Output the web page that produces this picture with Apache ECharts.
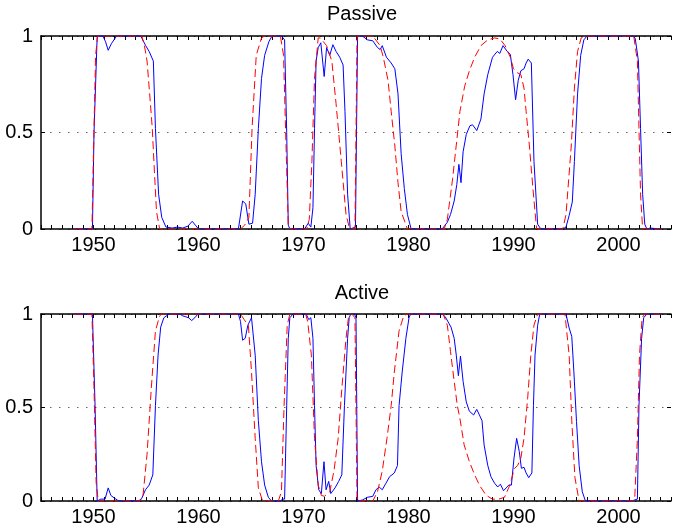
<!DOCTYPE html>
<html>
<head>
<meta charset="utf-8">
<script src="https://cdn.jsdelivr.net/npm/echarts@6/dist/echarts.min.js"></script>
<style>
  html, body { margin: 0; padding: 0; background: #fff; }
  #chart { width: 674px; height: 528px; }
</style>
</head>
<body>
<div id="chart"></div>
<script>
// [year, probability]
var passiveSolid = [
  [1948.25,0],[1949.9,0],[1950.05,0.5],[1950.35,1],[1950.9,1],[1951.15,0.97],[1951.4,0.926],[1951.7,0.96],[1952.2,1],
  [1954.5,1],[1954.97,0.95],[1955.3,0.92],[1955.7,0.87],[1955.9,0.52],[1956.2,0.18],[1956.5,0.06],[1956.9,0.01],
  [1957.5,0.005],[1958.0,0.01],[1958.5,0.005],[1959.0,0.015],[1959.4,0.04],[1959.7,0.02],[1960.0,0],[1963.8,0],
  [1964.2,0.145],[1964.5,0.13],[1964.8,0.025],[1965.15,0.03],[1965.4,0.18],[1965.7,0.52],[1966.0,0.78],[1966.3,0.9],
  [1966.7,0.97],[1967.0,1],[1967.9,1],[1968.2,0.98],[1968.4,0.5],[1968.55,0.02],[1968.7,0],[1970.1,0],[1970.45,0.03],
  [1970.7,0.01],[1970.9,0.11],[1971.05,0.52],[1971.2,0.87],[1971.4,0.94],[1971.65,0.965],[1971.97,0.79],[1972.2,0.94],
  [1972.5,0.9],[1972.8,0.955],[1973.1,0.92],[1973.45,0.89],[1973.77,0.85],[1973.95,0.61],[1974.2,0.18],[1974.45,0],
  [1974.95,0.01],[1975.15,1],[1975.6,1],[1976.1,0.98],[1976.6,0.975],[1977.05,0.94],[1977.3,0.93],[1977.5,0.95],
  [1977.9,0.89],[1978.35,0.86],[1978.7,0.83],[1979.0,0.7],[1979.3,0.39],[1979.6,0.21],[1979.9,0.075],[1980.25,0],
  [1983.2,0],[1983.7,0.035],[1984.0,0.075],[1984.35,0.145],[1984.6,0.23],[1984.8,0.335],[1985.0,0.24],[1985.2,0.4],
  [1985.5,0.49],[1985.85,0.535],[1986.1,0.54],[1986.5,0.51],[1986.9,0.57],[1987.2,0.7],[1987.55,0.8],[1988.0,0.89],
  [1988.45,0.92],[1988.7,0.91],[1989.0,0.95],[1989.4,0.92],[1989.7,0.905],[1989.95,0.8],[1990.2,0.67],[1990.45,0.77],
  [1990.7,0.82],[1991.0,0.83],[1991.2,0.86],[1991.4,0.88],[1991.7,0.86],[1991.95,0.35],[1992.3,0.025],[1992.6,0],
  [1994.7,0],[1995.0,0.01],[1995.3,0.07],[1995.6,0.14],[1995.8,0.35],[1996.1,0.7],[1996.4,0.9],[1996.7,0.98],
  [1997.0,1],[2001.45,1],[2001.6,0.985],[2001.9,0.87],[2002.1,0.52],[2002.3,0.18],[2002.5,0.025],[2002.7,0],
  [2003.0,0.005],[2004.0,0]
];
var passiveDashed = [
  [1948.25,0],[1949.85,0],[1950.0,0.4],[1950.2,0.9],[1950.4,1],[1954.6,1],[1954.85,0.95],[1955.1,0.87],[1955.35,0.7],
  [1955.6,0.52],[1955.8,0.3],[1956.0,0.09],[1956.3,0],[1964.0,0],[1964.4,0.02],[1964.8,0.06],[1965.1,0.52],[1965.5,0.9],
  [1966.0,0.99],[1966.3,1],[1967.8,1],[1968.1,0.9],[1968.3,0.5],[1968.55,0.02],[1968.7,0],[1970.3,0],[1970.55,0.05],
  [1970.8,0.35],[1971.05,0.78],[1971.4,0.99],[1971.6,0.99],[1971.9,0.97],[1972.2,0.95],[1972.7,0.87],[1973.1,0.65],
  [1973.6,0.35],[1974.05,0.075],[1974.4,0],[1974.9,0],[1975.1,1],[1976.6,1],[1977.3,0.95],[1977.6,0.89],[1978.05,0.77],
  [1978.35,0.61],[1978.7,0.43],[1979.0,0.24],[1979.3,0.09],[1979.9,0],[1983.4,0],[1983.7,0.05],[1984.2,0.26],
  [1984.6,0.46],[1984.9,0.61],[1985.35,0.74],[1985.8,0.82],[1986.3,0.89],[1986.9,0.95],[1987.55,0.98],[1988.2,0.99],
  [1988.7,0.985],[1989.2,0.95],[1989.7,0.89],[1990.0,0.83],[1990.35,0.81],[1990.7,0.8],[1991.0,0.73],[1991.2,0.61],
  [1991.5,0.44],[1991.85,0.21],[1992.2,0],[1994.7,0],[1995.0,0.075],[1995.5,0.43],[1995.8,0.73],[1996.1,0.92],
  [1996.45,0.99],[1996.8,1],[2001.45,1],[2001.8,0.87],[2001.95,0.52],[2002.1,0.18],[2002.3,0],[2004.0,0]
];
var activeSolid = [
  [1948.25,1],[1949.9,1],[1950.15,0.51],[1950.35,0],[1950.7,0.01],[1951.1,0.01],[1951.4,0.07],[1951.65,0.03],
  [1952.0,0.015],[1952.4,0],[1954.3,0],[1954.6,0.015],[1954.95,0.06],[1955.3,0.085],[1955.65,0.14],[1955.9,0.51],
  [1956.15,0.78],[1956.4,0.93],[1956.7,0.98],[1957.2,1],[1958.2,1],[1958.5,0.99],[1958.8,0.985],[1959.05,0.98],
  [1959.35,0.965],[1959.65,0.98],[1959.95,1],[1963.8,1],[1964.0,0.96],[1964.2,0.86],[1964.45,0.87],[1964.7,0.94],
  [1965.05,0.98],[1965.2,0.97],[1965.4,0.78],[1965.7,0.43],[1966.0,0.21],[1966.3,0.085],[1966.65,0.02],[1966.95,0],
  [1967.8,0],[1968.0,0.01],[1968.2,0.01],[1968.4,0.51],[1968.55,0.87],[1968.7,0.98],[1969.0,1],[1970.25,1],
  [1970.5,0.97],[1970.7,0.98],[1970.9,0.87],[1971.05,0.51],[1971.2,0.19],[1971.45,0.06],[1971.7,0.04],[1971.95,0.21],
  [1972.15,0.06],[1972.4,0.105],[1972.6,0.04],[1973.0,0.07],[1973.35,0.105],[1973.65,0.14],[1973.9,0.51],
  [1974.2,0.87],[1974.35,0.98],[1974.5,1],[1974.85,1],[1975.0,0.98],[1975.15,0],[1975.6,0.005],[1976.1,0.02],
  [1976.6,0.025],[1976.9,0.06],[1977.2,0.075],[1977.5,0.06],[1977.85,0.095],[1978.2,0.13],[1978.65,0.15],
  [1978.95,0.19],[1979.1,0.51],[1979.4,0.69],[1979.75,0.87],[1980.05,0.98],[1980.2,1],[1983.2,1],[1983.5,0.985],
  [1983.85,0.95],[1984.05,0.93],[1984.35,0.87],[1984.55,0.78],[1984.75,0.67],[1984.95,0.775],[1985.2,0.64],
  [1985.5,0.53],[1985.8,0.48],[1986.2,0.46],[1986.5,0.49],[1986.75,0.46],[1987.0,0.43],[1987.2,0.3],[1987.55,0.19],
  [1987.85,0.13],[1988.2,0.095],[1988.5,0.075],[1988.75,0.09],[1989.05,0.055],[1989.3,0.07],[1989.55,0.085],
  [1989.8,0.085],[1990.05,0.23],[1990.3,0.335],[1990.55,0.265],[1990.75,0.175],[1991.0,0.18],[1991.2,0.15],
  [1991.45,0.125],[1991.75,0.15],[1991.9,0.51],[1992.05,0.78],[1992.3,0.94],[1992.5,1],[1995.0,1],[1995.3,0.925],
  [1995.55,0.88],[1995.75,0.69],[1996.0,0.425],[1996.25,0.19],[1996.55,0.05],[1996.85,0],[2001.3,0],[2001.5,0.005],
  [2001.8,0.01],[2001.95,0.51],[2002.2,0.87],[2002.4,0.98],[2002.7,1],[2004.0,1]
];
var activeDashed = [
  [1948.25,1],[1949.85,1],[1950.05,0.6],[1950.25,0.1],[1950.45,0],[1954.4,0],[1954.7,0.02],[1955.1,0.25],[1955.5,0.6],
  [1955.9,0.91],[1956.3,0.99],[1956.5,1],[1964.0,1],[1964.35,0.97],[1964.75,0.94],[1965.05,0.69],[1965.4,0.335],
  [1965.7,0.07],[1966.1,0],[1967.6,0],[1967.9,0.05],[1968.15,0.51],[1968.45,0.94],[1968.7,1],[1970.2,1],[1970.4,0.96],
  [1970.75,0.78],[1971.05,0.335],[1971.4,0.085],[1971.7,0.03],[1972.0,0.025],[1972.5,0.05],[1972.9,0.16],
  [1973.3,0.335],[1973.65,0.6],[1974.05,0.87],[1974.3,0.99],[1974.6,1],[1974.9,0.98],[1975.1,0],[1976.6,0],
  [1977.05,0.05],[1977.5,0.16],[1977.95,0.335],[1978.35,0.51],[1978.65,0.69],[1979.1,0.91],[1979.55,0.99],[1979.9,1],
  [1983.3,1],[1983.7,0.94],[1984.0,0.8],[1984.35,0.64],[1984.65,0.51],[1984.9,0.44],[1985.3,0.3],[1985.8,0.21],
  [1986.3,0.14],[1986.75,0.085],[1987.4,0.03],[1988.0,0.01],[1988.6,0.01],[1989.15,0.02],[1989.65,0.085],
  [1990.1,0.175],[1990.4,0.19],[1990.7,0.23],[1991.0,0.335],[1991.35,0.55],[1991.65,0.78],[1991.95,0.94],[1992.3,1],
  [1994.9,1],[1995.3,0.78],[1995.55,0.43],[1995.85,0.125],[1996.25,0],[2001.4,0],[2001.55,0.02],[2001.8,0.335],
  [2002.0,0.78],[2002.25,0.98],[2002.5,1],[2004.0,1]
];
var panelTitles = ['Passive', 'Active'];
var decadeLabels = [1950, 1960, 1970, 1980, 1990, 2000];

var font = 'Liberation Sans, Arial, Helvetica, sans-serif';

function xAxisFor(grid, pos) {
    return {
        type: 'value',
        gridIndex: grid,
        position: pos,
        min: 1945,
        max: 2005,
        interval: 1,
        axisLine: { onZero: false, lineStyle: { color: '#000', width: 1.5 } },
        axisTick: { inside: true, length: 4, lineStyle: { color: '#000', width: 1 } },
        axisLabel: {
            show: pos === 'bottom',
            margin: 6,
            fontSize: 20,
            fontFamily: font,
            color: '#000',
            formatter: function (v) {
                return decadeLabels.indexOf(v) >= 0 ? String(v) : '';
            }
        },
        splitLine: { show: false }
    }
}

function yAxisFor(grid, pos) {
    return {
        type: 'value',
        gridIndex: grid,
        position: pos,
        min: 0,
        max: 1,
        interval: 0.5,
        // right border falls off the canvas in the original, only its ticks show
        axisLine: { show: pos === 'left', onZero: false, lineStyle: { color: '#000', width: 1.5 } },
        axisTick: { show: true, inside: true, length: 4, lineStyle: { color: '#000' } },
        axisLabel: {
            show: pos === 'left',
            margin: 8,
            fontSize: 20,
            fontFamily: font,
            color: '#000'
        },
        splitLine: {
            show: pos === 'left',
            lineStyle: { color: '#666', type: [1.5, 7.5], width: 1 }
        }
    }
}

function lineSeries(data, idx, color, dashed) {
    return {
        type: 'line',
        xAxisIndex: idx * 2,
        yAxisIndex: idx * 2,
        data: data,
        showSymbol: false,
        animation: false,
        lineStyle: { color: color, width: 1, type: dashed ? [8, 4] : 'solid' },
        z: dashed ? 3 : 2
    }
}

var chart = echarts.init(document.getElementById('chart'));
chart.setOption({
    backgroundColor: '#fff',
    animation: false,
    title: [
        { text: panelTitles[0], left: 357, top: -1, textAlign: 'center',
          textStyle: { fontSize: 20, fontWeight: 'normal', color: '#000', fontFamily: font } },
        { text: panelTitles[1], left: 357, top: 278, textAlign: 'center',
          textStyle: { fontSize: 20, fontWeight: 'normal', color: '#000', fontFamily: font } }
    ],
    grid: [
        { left: 41, right: 0, top: 36, height: 193 },
        { left: 41, right: 0, top: 314, height: 187 }
    ],
    xAxis: [xAxisFor(0, 'bottom'), xAxisFor(0, 'top'), xAxisFor(1, 'bottom'), xAxisFor(1, 'top')],
    yAxis: [yAxisFor(0, 'left'), yAxisFor(0, 'right'), yAxisFor(1, 'left'), yAxisFor(1, 'right')],
    series: [
        lineSeries(passiveSolid, 0, '#0000ff', false),
        lineSeries(passiveDashed, 0, '#ff0000', true),
        lineSeries(activeSolid, 1, '#0000ff', false),
        lineSeries(activeDashed, 1, '#ff0000', true)
    ]
});
</script>
</body>
</html>
